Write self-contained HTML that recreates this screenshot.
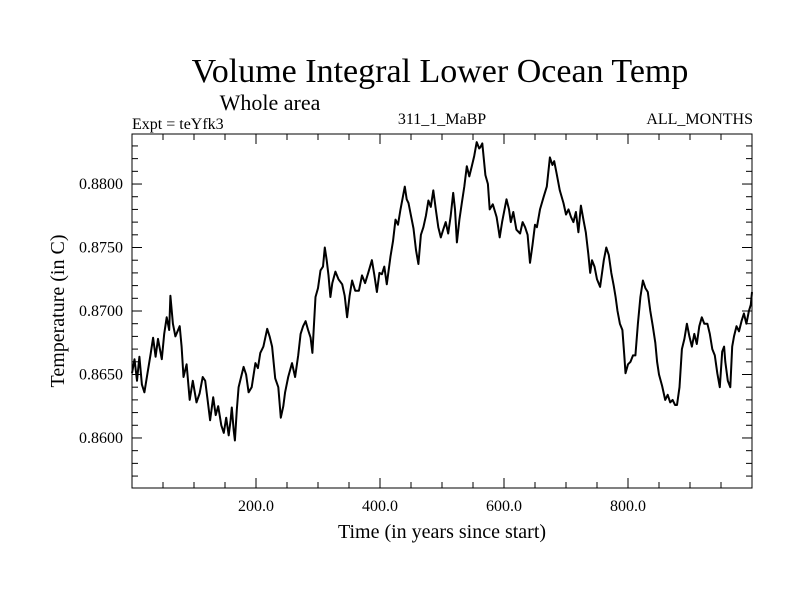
<!DOCTYPE html>
<html><head><meta charset="utf-8"><style>
body{margin:0;background:#fff;}
svg{display:block;font-family:"Liberation Serif",serif;}
</style></head><body>
<svg id="chart" width="800" height="600" viewBox="0 0 800 600">
<rect width="800" height="600" fill="#fff"/>
<text x="440" y="82" font-size="34" text-anchor="middle">Volume Integral Lower Ocean Temp</text>
<text x="270" y="110" font-size="22" text-anchor="middle">Whole area</text>
<text x="132" y="129" font-size="16">Expt = teYfk3</text>
<text x="442" y="124" font-size="16" text-anchor="middle">311_1_MaBP</text>
<text x="753" y="124" font-size="16" text-anchor="end">ALL_MONTHS</text>
<g id="axes"></g>
<path id="line" fill="none" stroke="#000" stroke-width="2" stroke-linejoin="round"/>
<rect x="132" y="134" width="620" height="354" fill="none" stroke="#000" stroke-width="1"/>
<text x="442" y="538" font-size="20" text-anchor="middle">Time (in years since start)</text>
<text x="0" y="0" font-size="20" text-anchor="middle" transform="translate(64,311) rotate(-90)">Temperature (in C)</text>
</svg>
<script>
const years = [
0,4,8,12,16,20,25,30,34,38,
42,48,52,56,60,62,66,70,77,80,
83,88,93,98,104,109,114,118,122,126,
131,135,139,144,148,152,156,159,161,164,
166,169,172,176,180,184,188,193,199,203,
207,212,218,222,226,231,236,240,244,247,
252,258,263,268,272,276,280,284,288,291,
296,300,304,308,311,314,317,320,323,328,
333,339,343,347,351,355,360,366,371,376,
381,387,391,395,399,403,407,411,417,421,
425,429,433,437,440,443,446,450,454,458,
462,466,470,474,478,482,486,490,494,498,
502,506,510,514,518,521,524,528,532,536,
540,544,548,552,556,560,562,565,570,574,
577,582,588,591,593,597,604,608,611,615,
620,626,630,634,638,642,646,650,653,658,
664,669,674,678,681,685,690,696,700,704,
708,712,716,720,724,728,732,736,739,742,
746,750,755,761,765,769,773,777,780,783,
787,791,794,796,800,804,808,812,816,820,
824,828,832,836,840,844,847,850,855,860,
864,868,872,876,879,883,887,891,895,899,
903,907,911,915,919,923,928,932,936,940,
944,948,952,955,957,961,965,968,971,975,
979,983,987,991,995,998,1000];
const temps = [
0.8651,0.8662,0.8645,0.8664,0.8642,0.8636,0.8651,0.8666,0.8679,0.8664,
0.8678,0.8662,0.8682,0.8695,0.8685,0.8712,0.8690,0.8680,0.8688,0.8672,
0.8648,0.8658,0.8630,0.8645,0.8628,0.8635,0.8648,0.8645,0.8630,0.8614,
0.8632,0.8618,0.8625,0.8610,0.8604,0.8616,0.8602,0.8614,0.8624,0.8606,
0.8598,0.8622,0.8640,0.8648,0.8656,0.8650,0.8636,0.8640,0.8659,0.8655,
0.8667,0.8672,0.8686,0.8680,0.8672,0.8647,0.8640,0.8616,0.8625,0.8636,
0.8648,0.8659,0.8648,0.8665,0.8682,0.8688,0.8692,0.8685,0.8679,0.8667,
0.8711,0.8718,0.8732,0.8735,0.8750,0.8740,0.8728,0.8711,0.8722,0.8731,
0.8725,0.8721,0.8712,0.8695,0.8712,0.8724,0.8716,0.8716,0.8728,0.8722,
0.8730,0.8740,0.8728,0.8715,0.8730,0.8729,0.8735,0.8721,0.8743,0.8755,
0.8772,0.8768,0.8780,0.8790,0.8798,0.8788,0.8785,0.8775,0.8765,0.8748,
0.8737,0.8760,0.8766,0.8775,0.8787,0.8782,0.8795,0.8780,0.8766,0.8758,
0.8764,0.8770,0.8761,0.8775,0.8793,0.8780,0.8754,0.8772,0.8785,0.8798,
0.8814,0.8806,0.8814,0.8822,0.8833,0.8828,0.8829,0.8832,0.8807,0.8800,
0.8780,0.8784,0.8774,0.8765,0.8758,0.8770,0.8788,0.8780,0.8770,0.8778,
0.8764,0.8761,0.8770,0.8766,0.8760,0.8738,0.8752,0.8768,0.8766,0.8780,
0.8790,0.8798,0.8821,0.8815,0.8818,0.8808,0.8795,0.8785,0.8776,0.8780,
0.8774,0.8770,0.8778,0.8762,0.8783,0.8772,0.8762,0.8745,0.8730,0.8740,
0.8735,0.8725,0.8719,0.8740,0.8750,0.8744,0.8730,0.8720,0.8711,0.8700,
0.8690,0.8685,0.8665,0.8651,0.8658,0.8660,0.8665,0.8665,0.8690,0.8711,
0.8724,0.8718,0.8715,0.8700,0.8688,0.8675,0.8660,0.8650,0.8641,0.8630,
0.8634,0.8628,0.8630,0.8626,0.8626,0.8640,0.8670,0.8678,0.8690,0.8680,
0.8672,0.8682,0.8674,0.8688,0.8695,0.8690,0.8690,0.8682,0.8670,0.8665,
0.8651,0.8640,0.8668,0.8672,0.8660,0.8645,0.8640,0.8672,0.8680,0.8688,
0.8684,0.8692,0.8698,0.8690,0.8700,0.8705,0.8715];
const xTicks = [200,400,600,800];
const xTickLabels = ["200.0","400.0","600.0","800.0"];
const yTicks = [0.860,0.865,0.870,0.875,0.880];
const yTickLabels = ["0.8600","0.8650","0.8700","0.8750","0.8800"];

const X0=132,X1=752,Y0=488,Y1=134, XMIN=0,XMAX=1000, YMIN=0.85606,YMAX=0.88394;
function sx(v){return X0+(v-XMIN)/(XMAX-XMIN)*(X1-X0);}
function sy(v){return Y0-(v-YMIN)/(YMAX-YMIN)*(Y0-Y1);}
const NS="http://www.w3.org/2000/svg";
const axes=document.getElementById('axes');
function mk(tag,attrs){const e=document.createElementNS(NS,tag);for(const k in attrs)e.setAttribute(k,attrs[k]);axes.appendChild(e);return e;}
for(let v=50;v<XMAX;v+=50){
  const major=v%200===0, len=major?10:6;
  const t1=mk('line',{x1:sx(v),x2:sx(v),y1:Y0,y2:Y0-len,stroke:'#000'});
  
  
  const t2=mk('line',{x1:sx(v),x2:sx(v),y1:Y1,y2:Y1+len,stroke:'#000'});
  
  
}
xTicks.forEach((v,i)=>{
  const t=mk('text',{x:sx(v),y:511,'font-size':16,'text-anchor':'middle'});
  t.textContent=xTickLabels[i];
  
  
});
for(let k=857;k<=883;k++){
  const v=k/1000, major=k%5===0, len=major?10:6;
  const t1=mk('line',{x1:X0,x2:X0+len,y1:sy(v),y2:sy(v),stroke:'#000'});
  
  
  const t2=mk('line',{x1:X1,x2:X1-len,y1:sy(v),y2:sy(v),stroke:'#000'});
  
  
}
yTicks.forEach((v,i)=>{
  const t=mk('text',{x:123,y:sy(v)+5,'font-size':16,'text-anchor':'end'});
  t.textContent=yTickLabels[i];
  
  
});
let d='';
const n=Math.min(years.length,temps.length);
for(let i=0;i<n;i++){d+=(i?'L':'M')+sx(years[i]).toFixed(1)+' '+sy(temps[i]).toFixed(1);}
document.getElementById('line').setAttribute('d',d);
</script>
</body></html>
